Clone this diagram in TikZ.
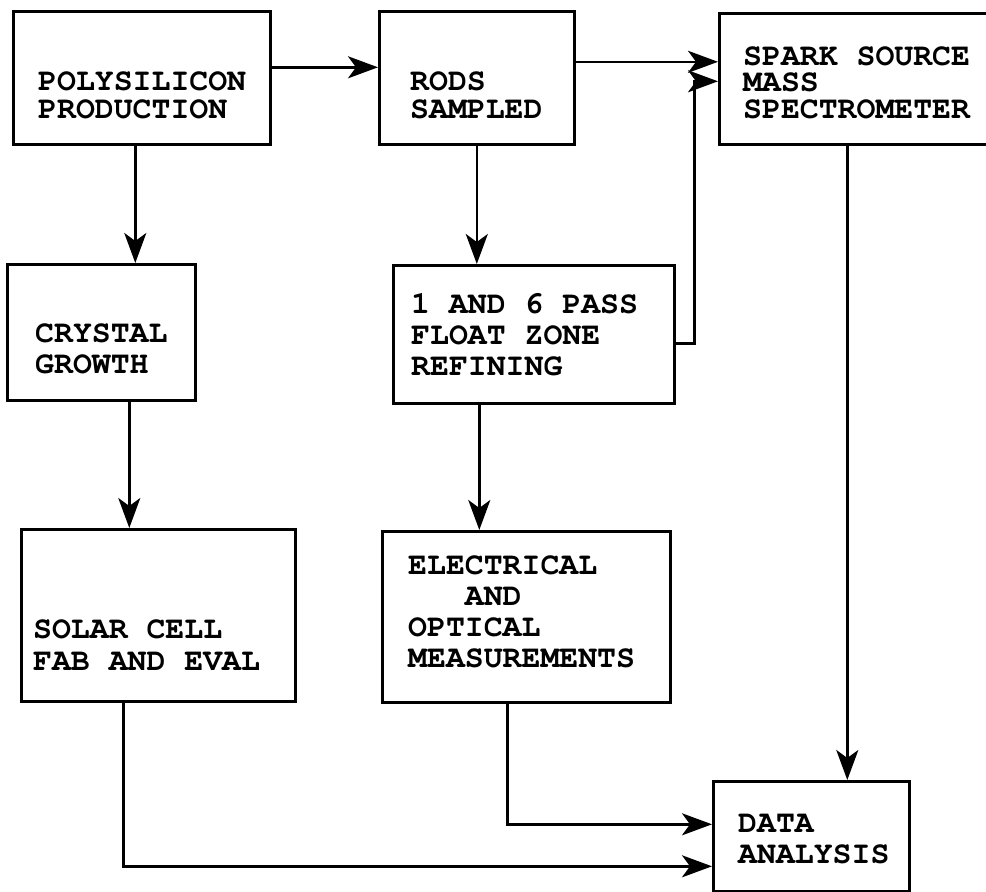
\documentclass[tikz,border=0pt]{standalone}
\usepackage{fontspec}
\setmonofont{texgyrecursor}[Extension=.otf,UprightFont=*-regular,BoldFont=*-bold]
\usetikzlibrary{arrows.meta}
\tikzset{
  procbox/.style={draw=black,line width=2.6pt,inner sep=0pt,anchor=north west},
  boxtext/.style={anchor=base west,inner sep=0pt,align=left,font=\ttfamily\bfseries\fontsize{31.5}{#1}\selectfont},
  boxtext/.default=31,
  flowpath/.style={-{Stealth[length=30pt,width=22pt,inset=8pt]},line width=2.4pt}
}
\begin{document}
\begin{tikzpicture}[x=1pt,y=-1pt]
\useasboundingbox (0,0) rectangle (986,892);
\clip (0,0) rectangle (986,892);

% boxes
\node[procbox,minimum width=257pt,minimum height=133pt] (poly) at (12,10) {};
\node[procbox,minimum width=195pt,minimum height=133pt] (rods) at (378,10) {};
\node[procbox,minimum width=290pt,minimum height=131pt] (spark) at (718,12) {};
\node[procbox,minimum width=188pt,minimum height=136pt] (crystal) at (6,263) {};
\node[procbox,minimum width=281pt,minimum height=138pt] (float) at (392,264) {};
\node[procbox,minimum width=274pt,minimum height=172pt] (solar) at (20,528) {};
\node[procbox,minimum width=288pt,minimum height=171pt] (elec) at (381,530) {};
\node[procbox,minimum width=196pt,minimum height=110pt] (data) at (712,780) {};

% texts (placed at the last baseline)
\node[boxtext=28] (polyT) at (38,118) {POLYSILICON\\PRODUCTION};
\node[boxtext=28] (rodsT) at (410,118) {RODS\\SAMPLED};
\node[boxtext=26.5] (sparkT) at (743,118) {SPARK SOURCE\\MASS\\SPECTROMETER};
\node[boxtext] (crystalT) at (35,373) {CRYSTAL\\GROWTH};
\node[boxtext] (floatT) at (411,375) {1 AND 6 PASS\\FLOAT ZONE\\REFINING};
\node[boxtext=32] (solarT) at (33,670) {SOLAR CELL\\FAB AND EVAL};
\node[boxtext=30.7] (elecT) at (408,667) {ELECTRICAL\\\phantom{ELE}AND\\OPTICAL\\MEASUREMENTS};
\node[boxtext] (dataT) at (738,863) {DATA\\ANALYSIS};

% connectors
\coordinate (pr) at ([yshift=10.5pt]poly.east);
\coordinate (rs) at ([yshift=16pt]rods.east);
\coordinate (fs) at ([yshift=-9pt]float.east);
\coordinate (pc) at ([xshift=-6.5pt]poly.south);
\coordinate (cs) at ([xshift=28pt]crystal.south);
\coordinate (fe) at ([xshift=-54.5pt]float.south);
\coordinate (sd) at ([xshift=-17pt]spark.south);

\draw[flowpath](pr)--(pr -| rods.west);\draw[flowpath](rs)--(rs -| spark.west);
\draw[flowpath](fs)--++(19,0)|-([yshift=-2.5pt]spark.west);
\draw[flowpath](pc)--(pc |- crystal.north);\draw[flowpath](cs)--(cs |- solar.north);
\draw[flowpath](rods.south)--(rods.south |- float.north);\draw[flowpath](fe)--(fe |- elec.north);
\draw[flowpath](sd)--(sd |- data.north);
\draw[flowpath]([xshift=-19pt]elec.south)|-([yshift=12pt]data.west);
\draw[flowpath]([xshift=-35pt]solar.south)|-([yshift=-30pt]data.west);
\end{tikzpicture}
\end{document}
